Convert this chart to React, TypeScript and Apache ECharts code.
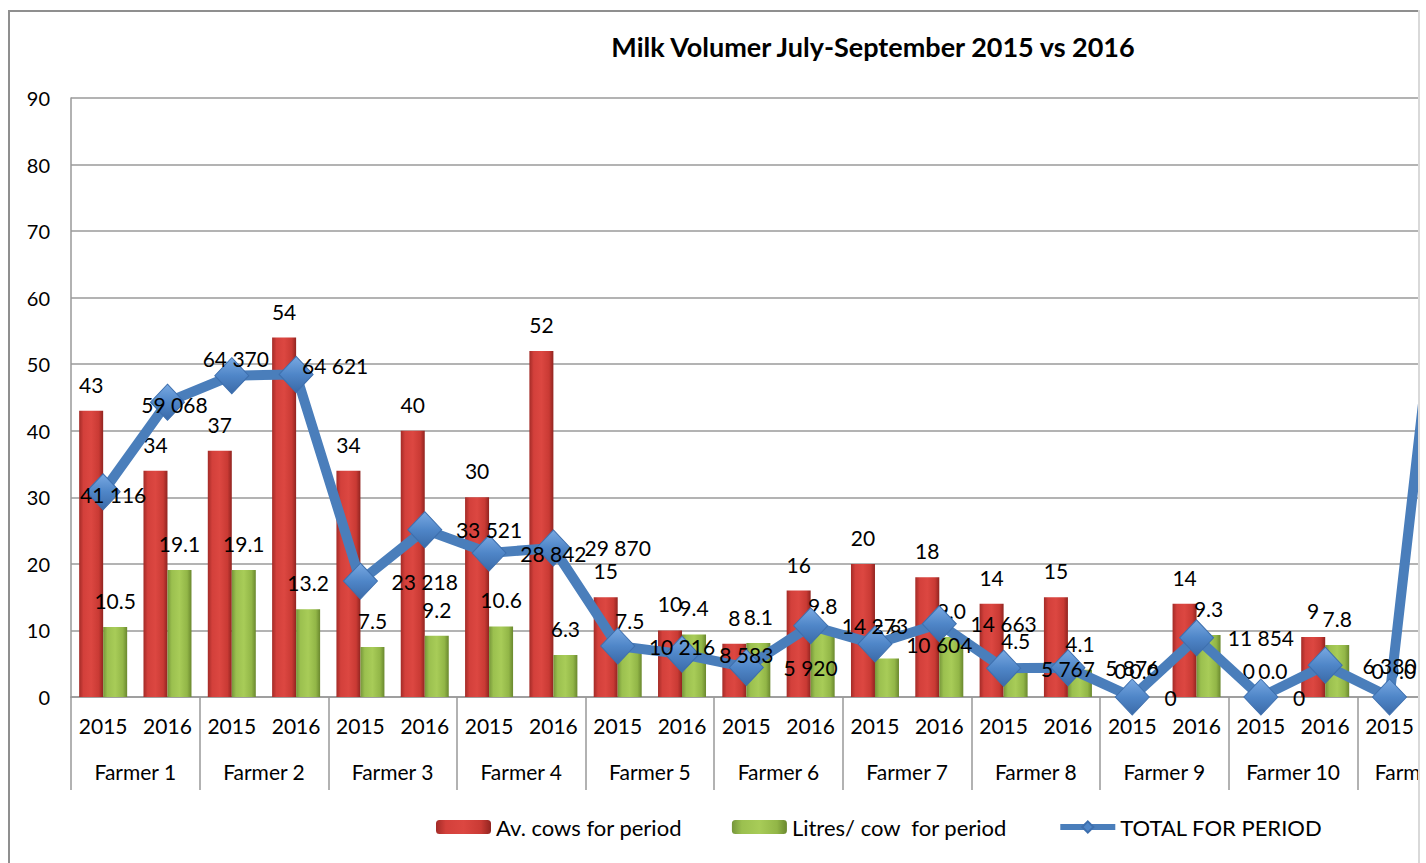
import React, { useEffect, useRef } from "react";
import * as echarts from "echarts";

const farmers = ["Farmer 1", "Farmer 2", "Farmer 3", "Farmer 4", "Farmer 5", "Farmer 6", "Farmer 7", "Farmer 8", "Farmer 9", "Farmer 10", "Farmer 11"];
const years = ["2015", "2016"];
const yTicks = { min: 0, max: 90, interval: 10 };

// Av. cows for period (2015, 2016 per farmer)
const cowsData: (number | null)[] = [43, 34, 37, 54, 34, 40, 30, 52, 15, 10, 8, 16, 20, 18, 14, 15, 0, 14, 0, 9, 0, null];
// Litres/ cow for period
const litresData: (number | null)[] = [10.5, 19.1, 19.1, 13.2, 7.5, 9.2, 10.6, 6.3, 7.5, 9.4, 8.1, 9.8, 5.8, 9.0, 4.5, 4.1, 0.0, 9.3, 0.0, 7.8, 0.0, null];
// TOTAL FOR PERIOD (secondary, hidden axis)
const totalData: number[] = [41116, 59068, 64370, 64621, 23218, 33521, 28842, 29870, 10216, 8583, 5920, 14273, 10604, 14663, 5767, 5876, 0, 11854, 0, 6380, 0, 113000];
const totalAxisMax = 120000;
// category slot at which each total label is drawn in the original
const totalLabelSlot: number[] = [0, 1, 2, 3, 5, 6, 7, 8, 9, 10, 11, 12, 13, 14, 15, 16, 17, 18, 19, 20, 21];

const legendNames = ["Av. cows for period", "Litres/ cow  for period", "TOTAL FOR PERIOD"];

const FONT = "Lato, 'Open Sans', sans-serif";

const fmtThousands = (v: number) => String(Math.round(v)).replace(/\B(?=(\d{3})+(?!\d))/g, " ");

export default function App() {
  const ref = useRef<HTMLDivElement>(null);
  useEffect(() => {
    if (!ref.current) return;
    const chart = echarts.init(ref.current, undefined, { renderer: "svg" });
    const categories: string[] = [];
    farmers.forEach(() => years.forEach((y) => categories.push(y)));

    const redGrad = new echarts.graphic.LinearGradient(0, 0, 1, 0, [
      { offset: 0, color: "#a32b27" },
      { offset: 0.18, color: "#d3403b" },
      { offset: 0.5, color: "#dc4741" },
      { offset: 0.82, color: "#c93a34" },
      { offset: 1, color: "#912420" },
    ]);
    const greenGrad = new echarts.graphic.LinearGradient(0, 0, 1, 0, [
      { offset: 0, color: "#76963a" },
      { offset: 0.18, color: "#9bc04f" },
      { offset: 0.5, color: "#a8cc58" },
      { offset: 0.82, color: "#92b647" },
      { offset: 1, color: "#6a882e" },
    ]);
    const diamondGrad = new echarts.graphic.LinearGradient(0, 0, 0, 1, [
      { offset: 0, color: "#79a9e2" },
      { offset: 0.5, color: "#4f86c8" },
      { offset: 1, color: "#3b6aa8" },
    ]);

    const labelStyle = { color: "#000", fontFamily: FONT, fontSize: 21, textBorderWidth: 0, textShadowBlur: 0 };

    const labelOffsets: Record<number, number[]> = {
      0: [10, 3],
      1: [7, 2],
      2: [4, -17],
      3: [39, -9],
      16: [-26, 0],
      18: [-26, 0],
    };

    const totalLabels = totalLabelSlot.map((slot, i) => ({
      value: [slot, totalData[i]],
      label: { offset: labelOffsets[i] || [0, 0] },
    }));

    chart.setOption({
      animation: false,
      title: {
        text: "Milk Volumer July-September 2015 vs 2016",
        left: 860,
        textAlign: "center",
        top: 18,
        textStyle: { fontFamily: FONT, fontWeight: "bold", fontSize: 27, color: "#000" },
      },
      legend: {
        left: 423,
        top: 801,
        itemWidth: 55,
        itemHeight: 14,
        itemGap: 50,
        textStyle: { fontFamily: FONT, fontSize: 22, color: "#000" },
        data: [
          { name: legendNames[0] },
          { name: legendNames[1] },
          { name: legendNames[2], lineStyle: { width: 6, color: "#4a7ebb" }, itemStyle: { color: "#4f86c8" } },
        ],
      },
      grid: { left: 63, top: 88, width: 1415, height: 599 },
      xAxis: [
        {
          type: "category",
          data: categories,
          position: "bottom",
          axisLine: { show: true, lineStyle: { color: "#999", width: 1.5 } },
          axisTick: { show: false },
          axisLabel: { interval: 0, margin: 18, ...labelStyle },
        },
        {
          type: "category",
          data: farmers,
          position: "bottom",
          offset: 0,
          axisLine: { show: false },
          axisTick: { show: true, interval: 0, length: 93, lineStyle: { color: "#999", width: 1.5 } },
          axisLabel: { interval: 0, margin: 64, ...labelStyle },
        },
      ],
      yAxis: [
        {
          type: "value",
          min: yTicks.min,
          max: yTicks.max,
          interval: yTicks.interval,
          axisLine: { show: true, lineStyle: { color: "#999", width: 1.5 } },
          axisTick: { show: false },
          axisLabel: { margin: 21, ...labelStyle, fontSize: 20 },
          splitLine: { lineStyle: { color: "#9a9a9a", width: 1.5 } },
        },
        { type: "value", min: 0, max: totalAxisMax, show: false, splitLine: { show: false } },
      ],
      series: [
        {
          name: legendNames[0],
          type: "bar",
          data: cowsData,
          barWidth: 24,
          barGap: "0%",
          itemStyle: { color: redGrad },
          label: { show: true, position: "top", distance: 16, ...labelStyle, formatter: (p: any) => String(p.value) },
        },
        {
          name: legendNames[1],
          type: "bar",
          data: litresData,
          barWidth: 24,
          barGap: "0%",
          itemStyle: { color: greenGrad },
          label: { show: true, position: "top", distance: 16, ...labelStyle, formatter: (p: any) => Number(p.value).toFixed(1) },
        },
        {
          name: legendNames[2],
          type: "line",
          yAxisIndex: 1,
          data: totalData,
          symbol: "diamond",
          symbolSize: [34, 36],
          lineStyle: { color: "#4a7ebb", width: 10 },
          itemStyle: { color: diamondGrad, borderColor: "#3d6fae", borderWidth: 1 },
          z: 3,
        },
        {
          name: "totalLabels",
          type: "scatter",
          yAxisIndex: 1,
          data: totalLabels,
          symbolSize: 0,
          silent: true,
          z: 5,
          itemStyle: { opacity: 1, color: "#000" },
          label: {
            show: true,
            position: "inside",
            ...labelStyle,
            opacity: 1,
            formatter: (p: any) => fmtThousands(p.value[1]),
          },
        },
      ],
    });
    return () => chart.dispose();
  }, []);

  return (
    <div
      style={{
        position: "fixed",
        left: 8,
        top: 10,
        width: 1410,
        height: 853,
        overflow: "hidden",
        background: "#fff",
        borderRight: "2px solid #d9d9d9",
      }}
    >
      <div ref={ref} style={{ position: "absolute", left: 0, top: 0, width: 1720, height: 870 }} />
      <div
        style={{
          position: "absolute",
          left: 0,
          top: 0,
          width: 1720,
          height: 870,
          boxSizing: "border-box",
          border: "2px solid #8f8f8f",
          pointerEvents: "none",
        }}
      />
    </div>
  );
}
